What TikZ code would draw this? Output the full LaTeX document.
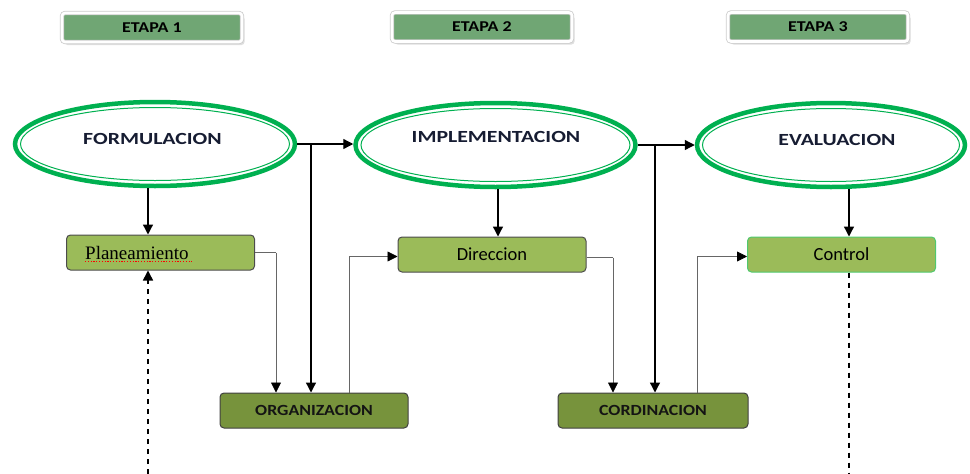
\documentclass[tikz,border=0pt]{standalone}
\usepackage{graphicx}
\usepackage{fontspec}
\setmainfont{Carlito}
\newfontfamily\serifont{Liberation Serif}
\usetikzlibrary{arrows.meta,shapes.geometric,shadows,calc}
\definecolor{egreen}{RGB}{0,176,80}
\definecolor{etapagreen}{RGB}{112,166,116}
\definecolor{lgreen}{RGB}{155,187,89}
\definecolor{dgreen}{RGB}{119,147,60}
\definecolor{navy}{RGB}{22,28,50}
\definecolor{cborder}{RGB}{80,200,110}
\newcommand{\hstretch}[2]{\scalebox{#1}[1]{#2}}
\begin{document}
\begin{tikzpicture}[x=1pt,y=-1pt,
  etapabox/.style={rounded corners=3pt, fill=etapagreen, draw=black!20, double=white, double distance=2.6pt, line width=0.8pt,
    minimum width=180pt, minimum height=29pt, inner sep=0pt,
    font=\fontsize{15}{17}\selectfont\bfseries, text=black,
    drop shadow={shadow xshift=2.5pt, shadow yshift=-3pt, fill=black!25}},
  phasering/.style={ellipse, draw=egreen, line width=4.5pt, inner sep=0pt, minimum height=84pt},
  innerring/.style={draw=egreen, line width=1pt},
  phaselabel/.style={font=\fontsize{17}{19}\selectfont\bfseries, text=navy, inner sep=0pt},
  lbox/.style={rounded corners=4pt, draw=black!70, line width=1pt, fill=lgreen, minimum width=188pt, minimum height=35pt, inner sep=0pt},
  dbox/.style={rounded corners=4pt, draw=black!75, line width=1pt, fill=dgreen, minimum width=188pt, minimum height=35pt, inner sep=0pt,
    font=\fontsize{15.5}{17}\selectfont\bfseries, text=black!92},
  arr/.style={-{Triangle[length=10pt,width=10pt]}, line width=1.3pt, black},
  thinline/.style={line width=0.8pt, black!60},
  thinarr/.style={thinline, -{Triangle[length=10pt,width=10pt,fill=black,color=black]}},
  dashline/.style={line width=1.5pt, black, dash pattern=on 5pt off 5pt}
]
\useasboundingbox (0,0) rectangle (970,474);

% stage headers
\node[etapabox] (e1) at (152,27.5) {\hstretch{1.2}{ETAPA 1}};
\node[etapabox] (e2) at (482,27) {\hstretch{1.2}{ETAPA 2}};
\node[etapabox] (e3) at (818,27) {\hstretch{1.2}{ETAPA 3}};

% ellipses
\node[phasering, minimum width=280pt] (F) at (155,144) {};
\draw[innerring] (F.center) ellipse [x radius=134.5, y radius=36.5];
\node[phasering, minimum width=280pt] (I) at (495.5,145) {};
\draw[innerring] (I.center) ellipse [x radius=134.5, y radius=36.5];
\node[phasering, minimum width=268pt] (E) at (831,145) {};
\draw[innerring] (E.center) ellipse [x radius=128.5, y radius=36.5];

\node[phaselabel] (Ft) at (152.5,138.5) {\hstretch{1.28}{FORMULACION}};
\node[phaselabel] (It) at (496,137) {\hstretch{1.28}{IMPLEMENTACION}};
\node[phaselabel] (Et) at (837,140) {\hstretch{1.28}{EVALUACION}};

% boxes
\node[lbox] (P) at (160.5,252.5) {};
\node[anchor=base west, inner sep=0pt, font=\serifont\fontsize{19}{21}\selectfont] (Pt) at (85,259.5) {Planeamiento};
\draw[red, line width=1pt, dash pattern=on 1.2pt off 1.6pt] (Pt.base west) ++(0,2) -- ($(Pt.base east)+(3,2)$);
\node[lbox, font=\fontsize{18.5}{20}\selectfont] (D) at (492,254.5) {Direccion};
\node[lbox, draw=cborder, font=\fontsize{18.5}{20}\selectfont] (C) at (841.5,254.5) {Control};
\node[dbox] (O) at (314,410.5) {\hstretch{1.15}{ORGANIZACION}};
\node[dbox, minimum width=190pt] (K) at (653,410.5) {\hstretch{1.15}{CORDINACION}};

% helper coordinates
\coordinate (x148) at (148,0);
\coordinate (x276) at (276,0);
\coordinate (x311) at (311,0);
\coordinate (x349) at (349,0);
\coordinate (x498) at (498,0);
\coordinate (x613) at (613,0);
\coordinate (x655) at (655,0);
\coordinate (x697) at (697,0);
\coordinate (x849) at (849,0);
\coordinate (bot148) at (148,474);
\coordinate (bot849) at (849,474);

% connectors stage 1
\draw[arr] (F.east) -- (F.east -| I.west);
\draw[arr] (F.east -| x311) -- (O.north -| x311);
\draw[arr] (F.south -| x148) -- (P.north -| x148);
\draw[thinline] (P.east) -- (P.east -| x276);
\draw[thinarr] (P.east -| x276) -- (O.north -| x276);
\draw[dashline, -{Triangle[length=10pt,width=10pt]}] (bot148) -- (P.south -| x148);
\draw[thinarr] (O.north -| x349) -- ($(D.west -| x349)+(0,2)$) -- ($(D.west)+(0,2)$);

% stage 2
\draw[arr] (I.east) -- (I.east -| E.west);
\draw[arr] (I.east -| x655) -- (K.north -| x655);
\draw[arr] (I.south -| x498) -- (D.north -| x498);
\draw[thinline] ($(D.east)+(0,3)$) -- ($(D.east -| x613)+(0,3)$);
\draw[thinarr] ($(D.east -| x613)+(0,3)$) -- (K.north -| x613);
\draw[thinarr] (K.north -| x697) -- ($(C.west -| x697)+(0,2)$) -- ($(C.west)+(0,2)$);

% stage 3
\draw[arr] (E.south -| x849) -- (C.north -| x849);
\draw[dashline] (C.south -| x849) -- (bot849);
\end{tikzpicture}
\end{document}
